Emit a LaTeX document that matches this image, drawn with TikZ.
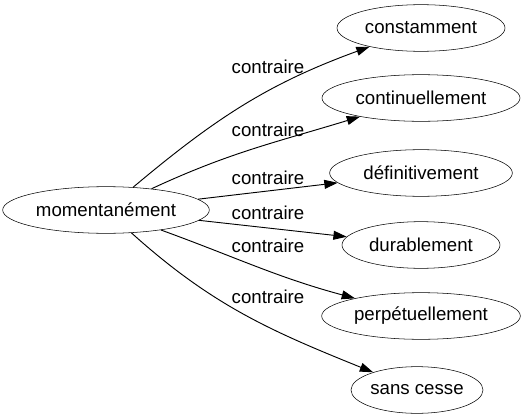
\documentclass[tikz,border=0pt]{standalone}
\usepackage{fontspec}
\setmainfont{Liberation Sans}
\usepackage{tikz}
\usetikzlibrary{arrows.meta, shapes.geometric}
\tikzstyle{word}  = [ellipse, draw, inner sep=0pt, minimum height=35pt,
                     font=\fontsize{14pt}{16pt}\selectfont]
\tikzstyle{rel}   = [font=\fontsize{14pt}{16pt}\selectfont, inner sep=0pt]
\tikzstyle{arr}   = [-{Triangle[length=10pt, width=6.7pt]}, line width=0.7pt]

\begin{document}
\begin{tikzpicture}[x=0.75pt, y=0.75pt]
    \useasboundingbox (0,0) rectangle (525,419);

    \node[word, minimum width=155pt]   (mom) at (106,209) {momentanément};
    \node[word, minimum width=126pt]   (n1)  at (421,391) {constamment};
    \node[word, minimum width=148.5pt] (n2)  at (421,321) {continuellement};
    \node[word, minimum width=137pt]   (n3)  at (421,246) {définitivement};
    \node[word, minimum width=118.5pt] (n4)  at (421,174) {durablement};
    \node[word, minimum width=149pt]   (n5)  at (421,103) {perpétuellement};
    \node[word, minimum width=95pt]    (n6)  at (417,29)  {sans cesse};

    \node[rel] (l1) at (268,352) {contraire};
    \node[rel] (l2) at (268,289) {contraire};
    \node[rel] (l3) at (268,241) {contraire};
    \node[rel] (l4) at (268,206) {contraire};
    \node[rel] (l5) at (268,173) {contraire};
    \node[rel] (l6) at (268,122) {contraire};

    \draw[arr] (mom) to[out=40, in=200] (n1);
    \draw[arr] (mom) to[out=25, in=197] (n2);
    \draw[arr] (mom) -- (n3);
    \draw[arr] (mom) -- (n4);
    \draw[arr] (mom) to[out=-20, in=165] (n5);
    \draw[arr] (mom) to[out=-42, in=158] (n6);
  \end{tikzpicture}
\end{document}
